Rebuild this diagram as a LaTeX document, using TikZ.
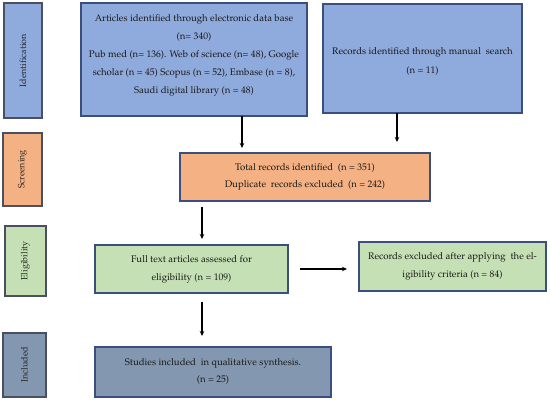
\documentclass[tikz,border=0pt]{standalone}
\usepackage[T1]{fontenc}
\renewcommand{\rmdefault}{ppl}
\usetikzlibrary{arrows.meta,calc}
\definecolor{bluefill}{HTML}{8FAADC}
\definecolor{orfill}{HTML}{F4B183}
\definecolor{grfill}{HTML}{C5E0B4}
\definecolor{infill}{HTML}{8497B0}
\definecolor{edge}{HTML}{3B4E7E}
\definecolor{sideedge}{HTML}{4A5060}
\begin{document}
\begin{tikzpicture}[x=1pt,y=1pt,
  box/.style={draw=edge,line width=1.3pt,align=center,inner sep=0pt,
    font=\fontsize{9.6}{17.5}\selectfont,text=black!90},
  side/.style={draw=sideedge,line width=1.1pt,inner sep=0pt},
  sidelabel/.style={rotate=90,font=\fontsize{9}{10}\selectfont,text=black!85},
  arr/.style={line width=1.1pt,-{Stealth[length=5pt,width=4.5pt]}}]
\useasboundingbox (0,0) rectangle (550,-401);
% side boxes
\node[side,fill=bluefill,minimum width=38,minimum height=115] (sid) at (23,-60.5) {};
\node[sidelabel] (sidl) at (sid.center) {Identification};
\node[side,fill=orfill,minimum width=39,minimum height=73] (sscr) at (22.5,-169.5) {};
\node[sidelabel] (sscrl) at (sscr.center) {Screening};
\node[side,fill=grfill,minimum width=41,minimum height=70] (selg) at (25.5,-261) {};
\node[sidelabel] (selgl) at (selg.center) {Eligibility};
\node[side,fill=infill,minimum width=43,minimum height=64] (sinc) at (24.5,-365) {};
\node[sidelabel] (sincl) at (sinc.center) {Included};
% main boxes
\node[box,fill=bluefill,minimum width=226,minimum height=113] (b1) at (194,-59.5) {};
\node[align=center,font=\fontsize{9.6}{18}\selectfont,text=black!90] (b1t) at (194,-55)
  {Articles identified through electronic data base\\ (n= 340)\\ Pub med (n= 136). Web of science (n= 48), Google\\ scholar (n = 45) Scopus (n = 52), Embase (n = 8),\\ Saudi digital library (n = 48)};
\node[box,fill=bluefill,minimum width=199,minimum height=109] (b2) at (422.5,-58.5) {};
\node[align=center,font=\fontsize{9.6}{19}\selectfont,text=black!90] (b2t) at (422.5,-62)
  {Records identified through manual\ \ search\\ (n = 11)};
\node[box,fill=orfill,minimum width=250,minimum height=48,font=\fontsize{9.6}{16.5}\selectfont] (b3) at (305,-177)
  {Total records identified \ (n = 351)\\ Duplicate\ \ records excluded \ (n = 242)};
\node[box,fill=grfill,minimum width=193,minimum height=48,font=\fontsize{9.6}{18}\selectfont] (b4) at (191.5,-269)
  {Full text articles assessed for\\ eligibility (n = 109)};
\node[box,fill=grfill,minimum width=187,minimum height=49,font=\fontsize{9.6}{18}\selectfont] (b5) at (452.5,-266.5)
  {Records excluded after applying\ \ the el-\\ igibility criteria (n = 84)};
\node[box,fill=infill,minimum width=236,minimum height=50,font=\fontsize{9.6}{17}\selectfont] (b6) at (213,-372)
  {Studies included\ \ in qualitative synthesis.\\ (n = 25)};
% arrow end points
\coordinate (a1s) at (242,-116);
\coordinate (a1e) at (242,-148);
\coordinate (a2s) at (397,-113);
\coordinate (a2e) at (397,-142);
\coordinate (a3s) at (202,-207);
\coordinate (a3e) at (202,-239);
\coordinate (a4s) at (300,-269);
\coordinate (a4e) at (347,-269);
\coordinate (a5s) at (202,-302);
\coordinate (a5e) at (202,-336);
\draw[arr] (a1s) -- (a1e);
\draw[arr] (a2s) -- (a2e);
\draw[arr] (a3s) -- (a3e);
\draw[arr] (a4s) -- (a4e);
\draw[arr] (a5s) -- (a5e);
\end{tikzpicture}
\end{document}
